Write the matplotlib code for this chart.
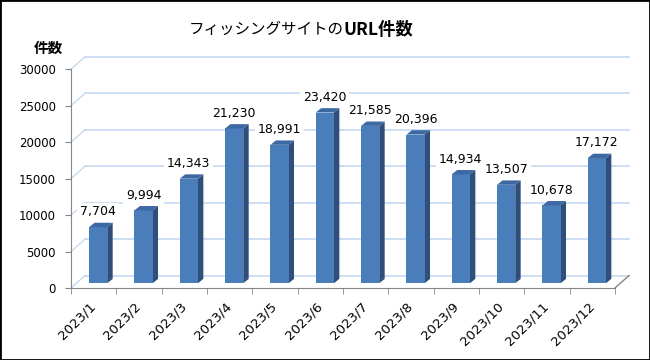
import matplotlib
matplotlib.use("Agg")
import matplotlib.pyplot as plt
from matplotlib.patches import Polygon, Rectangle
import numpy as np

# monthly counts of phishing URLs
months = ["2023/1", "2023/2", "2023/3", "2023/4", "2023/5", "2023/6",
          "2023/7", "2023/8", "2023/9", "2023/10", "2023/11", "2023/12"]
counts = [7704, 9994, 14343, 21230, 18991, 23420,
          21585, 20396, 14934, 13507, 10678, 17172]
yticks = [0, 5000, 10000, 15000, 20000, 25000, 30000]

plt.rcParams['font.family'] = ['DejaVu Sans', 'Noto Sans CJK JP']
jp = ['Noto Sans CJK JP', 'DejaVu Sans']

front = '#4a7ebb'
side = '#2f4e7b'
top = '#3d68a3'
grid = '#c6d9f1'
axcol = '#868686'

# fake 3d depth (in data units)
wall_dx, wall_dy = 0.31, 1710     # back wall offset
bar_off = 650                     # bars sit a bit behind the front edge
bar_dx, bar_dy = 0.12, 600        # bar depth

fig = plt.figure(figsize=(6.5, 3.6), dpi=100)
ax = fig.add_axes([0.1092, 0.2, 0.8369, 0.6075])
x = np.arange(len(months))
ax.set_xlim(-0.5, len(months) - 0.5)
ax.set_ylim(0, 30000)

# back wall gridlines + left wall diagonals
for v in yticks:
    ax.plot([-0.5 + wall_dx, len(months) - 0.5 + wall_dx], [v + wall_dy, v + wall_dy],
            color=grid, lw=1.2, clip_on=False, zorder=1)
    ax.plot([-0.5, -0.5 + wall_dx], [v, v + wall_dy], color=grid, lw=1.0,
            clip_on=False, zorder=1)
ax.plot([len(months) - 0.5, len(months) - 0.5 + wall_dx], [0, wall_dy],
        color=axcol, lw=1.0, clip_on=False, zorder=1)

# bars: front face, side, top
ax.bar(x + 0.1, counts, width=0.4, bottom=bar_off, color=front, zorder=3)
for i, v in enumerate(counts):
    l, r = i - 0.1, i + 0.3
    t = v + bar_off
    ax.add_patch(Polygon([(r, bar_off), (r, t), (r + bar_dx, t + bar_dy),
                          (r + bar_dx, bar_off + bar_dy)], closed=True,
                         fc=side, ec='none', zorder=2))
    ax.add_patch(Polygon([(l, t), (r, t), (r + bar_dx, t + bar_dy),
                          (l + bar_dx, t + bar_dy)], closed=True,
                         fc=top, ec='none', zorder=3, clip_on=False))
    ax.annotate(f"{v:,}", xy=(i + 0.1, t), xytext=(0, 11), textcoords='offset points',
                ha='center', va='center', fontsize=9, zorder=4, annotation_clip=False,
                bbox=dict(fc='white', ec='none', pad=2))

for s in ['top', 'right']:
    ax.spines[s].set_visible(False)
for s in ['left', 'bottom']:
    ax.spines[s].set_color(axcol)

ax.set_yticks(yticks)
ax.set_yticklabels([str(v) for v in yticks], fontsize=8.5)
ax.tick_params(axis='y', length=4, color=axcol, pad=7)

ax.set_xticks(x)
ax.set_xticklabels(months, rotation=45, ha='right', va='center',
                   rotation_mode='anchor', fontsize=9.5)
ax.set_xticks(np.arange(len(months) + 1) - 0.5, minor=True)
ax.tick_params(axis='x', which='major', length=0, pad=12)
ax.tick_params(axis='x', which='minor', length=4, color=axcol)

fig.text(0.529, 0.918, "フィッシングサイトの", family=jp, fontsize=11.2,
         ha='right', va='center')
fig.text(0.529, 0.918, "URL件数", family=jp, fontsize=12.5, fontweight='bold',
         ha='left', va='center')
fig.text(0.074, 0.867, "件数", family=jp, fontsize=10.5, fontweight='bold',
         ha='center', va='center')

fig.patches.append(Rectangle((0, 0), 1, 1, transform=fig.transFigure, fill=False,
                             ec='black', lw=2))

fig.savefig("out.png", dpi=100)
